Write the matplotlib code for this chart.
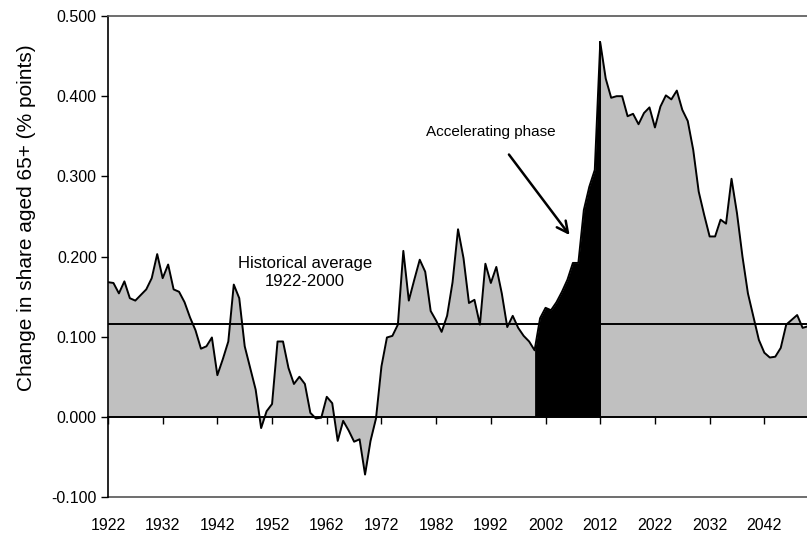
import matplotlib
matplotlib.use("Agg")
import matplotlib.pyplot as plt
import numpy as np

plt.rcParams['font.family'] = ['Liberation Sans', 'DejaVu Sans']

years = list(range(1922, 2051))
values = [
    0.168, 0.167, 0.154, 0.169, 0.148, 0.145, 0.152, 0.159, 0.173, 0.203,  # 1922-1931
    0.173, 0.190, 0.159, 0.156, 0.143, 0.124, 0.108, 0.085, 0.088, 0.099,  # 1932-1941
    0.052, 0.072, 0.094, 0.165, 0.148, 0.088, 0.061, 0.034, -0.014, 0.007,  # 1942-1951
    0.016, 0.094, 0.094, 0.061, 0.041, 0.050, 0.041, 0.005, -0.002, -0.001,  # 1952-1961
    0.025, 0.017, -0.030, -0.005, -0.017, -0.031, -0.028, -0.072, -0.030, -0.002,  # 1962-1971
    0.063, 0.099, 0.101, 0.115, 0.207, 0.145, 0.171, 0.196, 0.181, 0.132,  # 1972-1981
    0.120, 0.106, 0.126, 0.168, 0.234, 0.198, 0.142, 0.146, 0.115, 0.191,  # 1982-1991
    0.167, 0.187, 0.154, 0.112, 0.126, 0.111, 0.101, 0.094, 0.083, 0.123,  # 1992-2001
    0.136, 0.133, 0.143, 0.156, 0.171, 0.192, 0.192, 0.258, 0.287, 0.308,  # 2002-2011
    0.467, 0.422, 0.398, 0.400, 0.400, 0.375, 0.378, 0.365, 0.379, 0.386,  # 2012-2021
    0.361, 0.387, 0.401, 0.396, 0.407, 0.383, 0.369, 0.333, 0.281, 0.252,  # 2022-2031
    0.225, 0.225, 0.246, 0.241, 0.297, 0.254, 0.200, 0.154, 0.125, 0.096,  # 2032-2041
    0.080, 0.074, 0.075, 0.086, 0.115, 0.121, 0.127, 0.111, 0.113,  # 2042-2050
]
phase_start, phase_end = 2000, 2012
historical_average = 0.1156
tick_years = list(range(1922, 2043, 10))
y_ticks = [-0.1, 0.0, 0.1, 0.2, 0.3, 0.4, 0.5]

yrs = np.array(years)
vals = np.array(values)

fig = plt.figure(figsize=(8.07, 5.43), dpi=100)
ax = fig.add_axes([0.1338, 0.0847, 0.8662, 0.8858])

ax.fill_between(yrs, vals, 0, color='#C0C0C0', linewidth=0, zorder=1)
ax.axhline(historical_average, color='black', linewidth=1.4, zorder=2)
mask = (yrs >= phase_start) & (yrs <= phase_end)
ax.fill_between(yrs[mask], vals[mask], 0, color='black', linewidth=0, zorder=3)
ax.plot([phase_end, phase_end], [0, vals[yrs == phase_end][0]], color='black', lw=1.4, zorder=3)
ax.plot(yrs, vals, color='black', linewidth=1.4, zorder=4)

ax.set_xlim(1922, 2049.8)
ax.set_ylim(-0.1, 0.5)

# zero axis with tick marks
ax.spines['bottom'].set_position(('data', 0))
ax.spines['bottom'].set_linewidth(1.4)
ax.spines['bottom'].set_zorder(5)
ax.set_xticks(tick_years)
ax.tick_params(axis='x', direction='out', length=5, width=1, labelbottom=False)

sec = ax.secondary_xaxis('bottom')
sec.set_xticks(tick_years)
sec.set_xticklabels([str(y) for y in tick_years])
sec.tick_params(length=0, pad=15, labelsize=11.5)
sec.spines['bottom'].set_color('#555555')
sec.spines['bottom'].set_linewidth(1.2)

ax.spines['right'].set_visible(False)
ax.spines['top'].set_color('#555555')
ax.spines['top'].set_linewidth(1.2)
ax.spines['left'].set_linewidth(1.2)

ax.set_yticks(y_ticks)
ax.set_yticklabels([f"{v:.3f}" for v in y_ticks])
ax.tick_params(axis='y', direction='out', length=5, width=1, labelsize=11.5, pad=3)

ax.set_ylabel("Change in share aged 65+ (% points)", fontsize=15, va='center')
ax.yaxis.set_label_coords(-0.116, 0.58)

ax.text(1958.0, 0.180, "Historical average\n1922-2000", ha='center', va='center',
        fontsize=12, linespacing=1.2, zorder=6)
ax.text(1992.0, 0.355, "Accelerating phase", ha='center', va='center', fontsize=11, zorder=6)
ax.annotate("", xy=(2006.7, 0.224), xytext=(1995.0, 0.330),
            arrowprops=dict(arrowstyle='->', color='black', lw=1.8, mutation_scale=20),
            zorder=6)

fig.savefig("out.png", dpi=100)
